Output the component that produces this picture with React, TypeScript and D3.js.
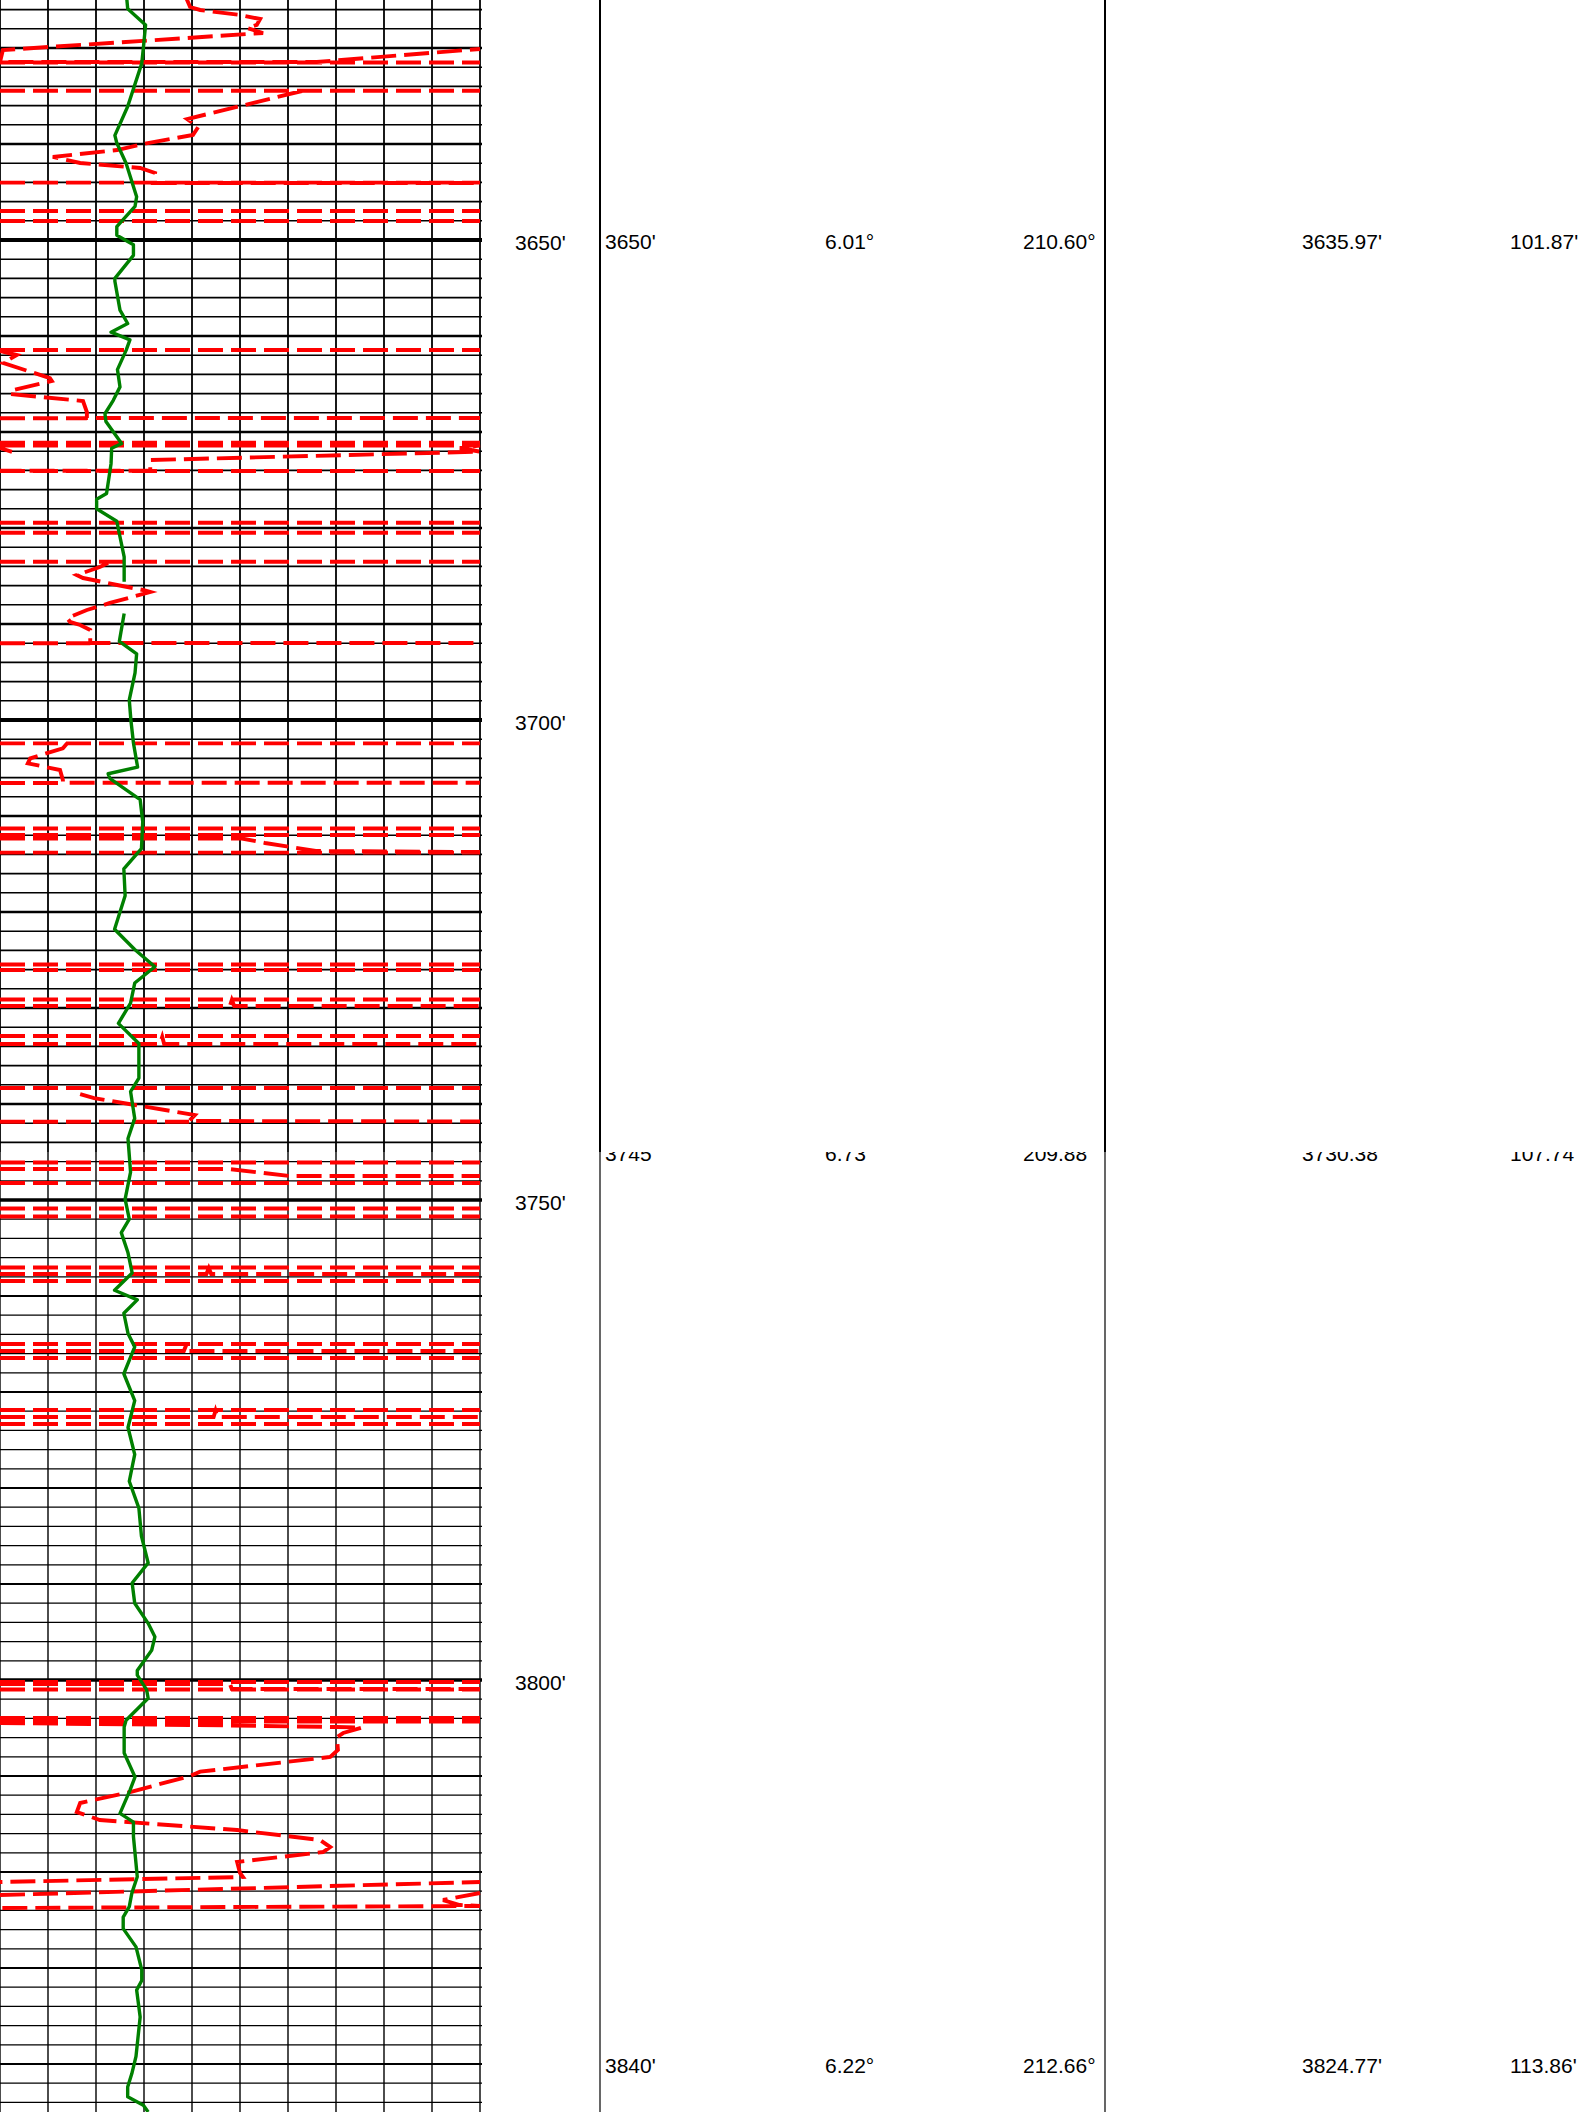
import * as d3 from 'd3';
import React from 'react';

type Pt = [number, number] | null; // [depth ft, value]

const W = 1584;
const H = 2112;
const TOP_DEPTH = 3625;
const BASE_DEPTH = 3845;
const TRACK_W = 480;
const SPLIT_DEPTH = 3745; // page break between the two printed panels

// depth labels next to the track
const depthTicks = [3650, 3700, 3750, 3800];

// survey stations
const surveyMD = [3650, 3745, 3840];
const surveyInc = [6.01, 6.73, 6.22];
const surveyAzi = [210.6, 209.88, 212.66];
const surveyTVD = [3635.97, 3730.38, 3824.77];
const surveyVS = [101.87, 107.74, 113.86];

// gamma ray, API (null = no data)
const gammaRay: Pt[] = [
  [3624.8, 39.6], [3625.9, 39.9], [3627.6, 45.5], [3630.0, 44.8], [3631.6, 44.3], [3636.1, 39.9],
  [3639.1, 35.9], [3639.9, 36.5], [3642.0, 39.4], [3645.5, 42.7], [3646.5, 42.2], [3648.6, 36.5],
  [3649.5, 36.5], [3650.5, 41.7], [3651.6, 41.7], [3654.0, 35.9], [3654.3, 35.9], [3657.3, 37.5],
  [3658.7, 39.9], [3659.6, 34.7], [3660.4, 40.6], [3661.5, 39.4], [3663.5, 36.7], [3665.3, 37.5],
  [3666.7, 35.4], [3668.1, 32.8], [3668.9, 33.1], [3671.2, 38.0], [3671.7, 34.9], [3673.3, 34.7],
  [3676.4, 33.3], [3677.0, 30.2], [3678.0, 30.2], [3679.3, 36.5], [3680.6, 37.3], [3683.0, 38.8],
  [3685.6, 38.8], null,
  [3688.9, 38.8], [3691.8, 37.3], [3693.1, 42.7], [3695.1, 42.2], [3697.9, 40.4], [3700.0, 40.9],
  [3702.4, 41.7], [3704.9, 43.0], [3705.6, 33.8], [3706.1, 34.4], [3708.3, 43.8], [3710.6, 44.6],
  [3713.4, 44.2], [3715.5, 38.7], [3718.3, 39.1], [3721.8, 35.8], [3723.9, 42.1], [3725.7, 48.4],
  [3727.4, 42.1], [3729.5, 40.8], [3731.6, 37.0], [3733.7, 43.4], [3737.3, 43.4], [3738.7, 40.8],
  [3741.5, 42.1], [3743.6, 40.0], [3747.1, 40.8], [3749.9, 39.1], [3752.0, 40.4], [3753.4, 37.9],
  [3755.5, 40.0], [3757.6, 41.3], [3759.4, 35.8], [3760.4, 42.9], [3761.8, 38.7], [3763.9, 40.0],
  [3765.3, 42.1], [3768.1, 38.7], [3770.9, 42.1], [3773.7, 40.0], [3776.5, 42.1], [3779.3, 40.4],
  [3782.1, 43.4], [3785.0, 44.2], [3787.8, 46.3], [3789.9, 41.3], [3792.0, 42.1], [3794.1, 46.3],
  [3795.5, 48.4], [3796.9, 47.4], [3799.0, 42.9], [3799.5, 42.9], [3801.0, 45.8], [3801.9, 46.3],
  [3804.2, 39.4], [3804.9, 38.8], [3807.6, 38.8], [3810.1, 42.2], [3811.5, 40.6], [3813.9, 37.5],
  [3814.8, 41.7], [3816.3, 41.7], [3820.5, 42.9], [3822.2, 41.2], [3823.6, 40.4], [3824.7, 38.5],
  [3825.9, 38.5], [3827.8, 42.5], [3830.2, 44.3], [3831.3, 44.3], [3832.3, 42.7], [3835.1, 43.8],
  [3839.2, 42.5], [3841.0, 41.2], [3842.4, 39.9], [3843.4, 39.9], [3844.3, 44.8], [3845.0, 46.3],
];

// resistivity, wrapped 0-10 scale (null = pen lift)
const resistivity: Pt[] = [
  [3624.79, 3.88], [3625.73, 3.96], [3626.04, 4.17], [3626.56, 5.0], [3626.98, 5.42], [3627.6, 5.35],
  [3627.92, 5.15], [3628.44, 5.48], [3630.21, 0.06], [3631.46, 0], [3631.46, 6.6], [3630.1, 10], null,
  [3631.51, 0], [3631.51, 10], null,
  [3634.45, 0], [3634.45, 10], null,
  [3634.48, 6.29], [3637.4, 3.9], [3638.23, 4.13], [3639.06, 4.02], [3640.0, 2.98], [3640.63, 2.44],
  [3641.35, 1.1], [3641.98, 1.67], [3642.5, 2.92], [3643.02, 3.23], [3644.06, 3.19], [3644.06, 10], null,
  [3644.02, 0], [3644.02, 10], null,
  [3646.98, 0], [3646.98, 10], null,
  [3648.02, 0], [3648.02, 10], null,
  [3661.46, 0], [3661.46, 10], null,
  [3661.56, 0], [3661.98, 0.35], [3662.81, 0.06], [3664.38, 1.04], [3664.69, 1.08], [3665.63, 0.27],
  [3666.04, 0.21], [3666.77, 1.73], [3667.92, 1.81], [3668.54, 1.81], [3668.54, 10], null,
  [3668.57, 0], [3668.57, 1.81], null,
  [3671.11, 0], [3671.11, 10], null,
  [3671.41, 0], [3671.41, 10], [3671.67, 9.58], [3672.05, 10], [3672.92, 3.13], [3674.03, 3.13],
  [3674.03, 0], null,
  [3671.67, 0], [3672.08, 0.25], null,
  [3674.06, 0], [3674.06, 10], null,
  [3679.45, 0], [3679.45, 10], null,
  [3680.49, 0], [3680.49, 10], null,
  [3683.51, 0], [3683.51, 10], null,
  [3683.65, 2.25], [3684.06, 2.08], [3684.9, 1.6], [3685.21, 1.73], [3685.42, 1.94], [3685.94, 2.44],
  [3686.46, 2.98], [3686.67, 3.13], [3687.81, 2.29], [3688.54, 1.81], [3689.38, 1.4], [3689.79, 1.46],
  [3690.1, 1.67], [3690.63, 1.88], [3691.98, 1.88], [3691.98, 10], null,
  [3692.01, 0], [3692.01, 1.88], null,
  [3702.43, 0], [3702.43, 10], null,
  [3702.43, 1.4], [3702.95, 1.31], [3703.99, 0.63], [3704.51, 0.58], [3705.21, 1.25], [3706.25, 1.31],
  [3706.53, 1.31], [3706.53, 10], null,
  [3706.56, 0], [3706.56, 1.31], null,
  [3711.3, 0], [3711.3, 10], null,
  [3711.98, 0], [3711.98, 10], null,
  [3712.34, 0], [3712.34, 5.04], [3712.81, 5.52], [3713.65, 6.58], [3713.75, 10], null,
  [3713.81, 0], [3713.81, 10], null,
  [3725.47, 0], [3725.47, 10], null,
  [3726.04, 0], [3726.04, 10], null,
  [3729.11, 0], [3729.11, 10], null,
  [3729.79, 0], [3729.79, 4.79], [3729.17, 4.83], [3729.79, 4.88], [3729.79, 10], null,
  [3732.92, 0], [3732.92, 10], null,
  [3733.75, 0], [3733.75, 3.33], [3733.0, 3.38], [3733.75, 3.42], [3733.75, 10], null,
  [3738.33, 0], [3738.33, 10], null,
  [3738.96, 1.67], [3739.38, 1.96], [3740.1, 2.81], [3741.15, 4.06], [3741.77, 3.94], [3741.82, 10], null,
  [3741.85, 0], [3741.85, 3.94], null,
  [3746.09, 0], [3746.09, 10], null,
  [3746.77, 0], [3746.77, 4.77], [3747.5, 6.04], [3747.5, 10], null,
  [3748.23, 0], [3748.23, 10], null,
  [3750.89, 0], [3750.89, 10], null,
  [3751.72, 0], [3751.72, 10], null,
  [3757.03, 0], [3757.03, 10], null,
  [3757.71, 0], [3757.71, 4.3], [3757.1, 4.35], [3757.71, 4.4], [3757.71, 10], null,
  [3758.44, 0], [3758.44, 10], null,
  [3765.0, 0], [3765.0, 10], null,
  [3765.73, 0], [3765.73, 3.83], [3765.1, 3.88], [3765.73, 3.92], [3765.73, 10], null,
  [3766.46, 0], [3766.46, 10], null,
  [3771.88, 0], [3771.88, 10], null,
  [3772.6, 0], [3772.6, 4.45], [3771.95, 4.49], [3772.6, 4.53], [3772.6, 10], null,
  [3773.33, 0], [3773.33, 10], null,
  [3800.21, 0], [3800.21, 10], null,
  [3800.42, 0], [3800.42, 4.79], [3800.94, 4.83], [3800.94, 10], null,
  [3800.99, 0], [3800.99, 10], null,
  [3803.96, 0], [3803.96, 10], null,
  [3804.32, 0], [3804.32, 10], null,
  [3804.48, 0], [3804.69, 4.1], [3804.9, 7.02], [3804.95, 7.54], [3805.52, 7.15], [3805.94, 7.02],
  [3807.29, 7.04], [3808.02, 6.88], [3809.55, 4.17], [3810.0, 3.96], [3811.67, 2.71], [3812.81, 1.67],
  [3813.75, 1.6], [3814.58, 2.08], [3815.63, 4.94], [3816.67, 6.67], [3817.4, 6.88], [3817.92, 6.73],
  [3818.96, 4.94], [3820.1, 5.0], [3820.52, 5.06], [3821.04, 0], null,
  [3822.4, 0], [3821.04, 10], null,
  [3822.19, 10], [3822.92, 9.23], [3823.44, 9.58], [3823.54, 10], [3823.75, 0], null,
];

const FONT = "'Liberation Sans', Arial, sans-serif";

const App: React.FC = () => {
  const y = d3.scaleLinear().domain([TOP_DEPTH, BASE_DEPTH]).range([0, H]);
  const grX = d3.scaleLinear().domain([0, 150]).range([0, TRACK_W]);
  const resX = d3.scaleLinear().domain([0, 10]).range([0, TRACK_W]);
  const splitY = y(SPLIT_DEPTH);

  const grLine = d3
    .line<Pt>()
    .defined((p) => p !== null)
    .x((p) => grX(p![1]))
    .y((p) => y(p![0]));

  const resLine = d3
    .line<Pt>()
    .defined((p) => p !== null)
    .x((p) => resX(p![1]))
    .y((p) => y(p![0]));

  const gridDepths = d3.range(TOP_DEPTH + 1, BASE_DEPTH + 1, 2);
  const lower = (d: number) => d >= SPLIT_DEPTH;
  const gridWidth = (d: number) => {
    if (d % 50 === 0) return lower(d) ? 3.4 : 3.8;
    if (d % 10 === 0) return lower(d) ? 2.2 : 2.6;
    return lower(d) ? 1.3 : 1.6;
  };

  // survey table columns (left edge of each text)
  const colX = [605, 825, 1023, 1302, 1510];
  const tableRules = [600, 1105];

  const rowText = (i: number) => [
    `${surveyMD[i]}'`,
    `${surveyInc[i].toFixed(2)}°`,
    `${surveyAzi[i].toFixed(2)}°`,
    `${surveyTVD[i].toFixed(2)}'`,
    `${surveyVS[i].toFixed(2)}'`,
  ];

  return (
    <svg
      width={W}
      height={H}
      viewBox={`0 0 ${W} ${H}`}
      style={{ position: 'absolute', left: 0, top: 0, background: '#fff' }}
    >
      <defs>
        <clipPath id="upper">
          <rect x={0} y={0} width={W} height={splitY} />
        </clipPath>
        <clipPath id="lower">
          <rect x={0} y={splitY} width={W} height={H - splitY} />
        </clipPath>
      </defs>
      <rect width={W} height={H} fill="#fff" />

      {/* track grid */}
      <g stroke="#000">
        {gridDepths.map((d) => (
          <line key={d} x1={0} x2={TRACK_W + 2} y1={y(d)} y2={y(d)} strokeWidth={gridWidth(d)} />
        ))}
        {resX.ticks(10).map((t) => (
          <g key={t}>
            <line x1={resX(t)} x2={resX(t)} y1={0} y2={splitY} strokeWidth={1.8} />
            <line x1={resX(t)} x2={resX(t)} y1={splitY} y2={H} strokeWidth={1.4} />
          </g>
        ))}
      </g>

      {/* curves */}
      <path
        d={resLine(resistivity) || ''}
        fill="none"
        stroke="#ff0000"
        strokeWidth={3.9}
        strokeDasharray="25 8"
      />
      <path
        d={grLine(gammaRay) || ''}
        fill="none"
        stroke="#008000"
        strokeWidth={3.4}
        strokeLinejoin="round"
      />

      {/* depth labels */}
      <g fontFamily={FONT} fontSize={21} fill="#000">
        {depthTicks.map((d) => (
          <text key={d} x={515} y={y(d) + 9.5}>
            {`${d}'`}
          </text>
        ))}
      </g>

      {/* survey table */}
      <g stroke="#000">
        {tableRules.map((x) => (
          <g key={x}>
            <line x1={x} x2={x} y1={0} y2={splitY} strokeWidth={2} />
            <line x1={x} x2={x} y1={splitY - 2} y2={H} strokeWidth={1.2} />
          </g>
        ))}
      </g>
      <g fontFamily={FONT} fontSize={21} fill="#000">
        {surveyMD.map((md, i) => (
          <g key={md} clipPath={lower(md) ? 'url(#lower)' : 'url(#upper)'}>
            {rowText(i).map((t, j) => (
              <text key={j} x={colX[j]} y={y(md) + 9}>
                {t}
              </text>
            ))}
          </g>
        ))}
      </g>
    </svg>
  );
};

export default App;
